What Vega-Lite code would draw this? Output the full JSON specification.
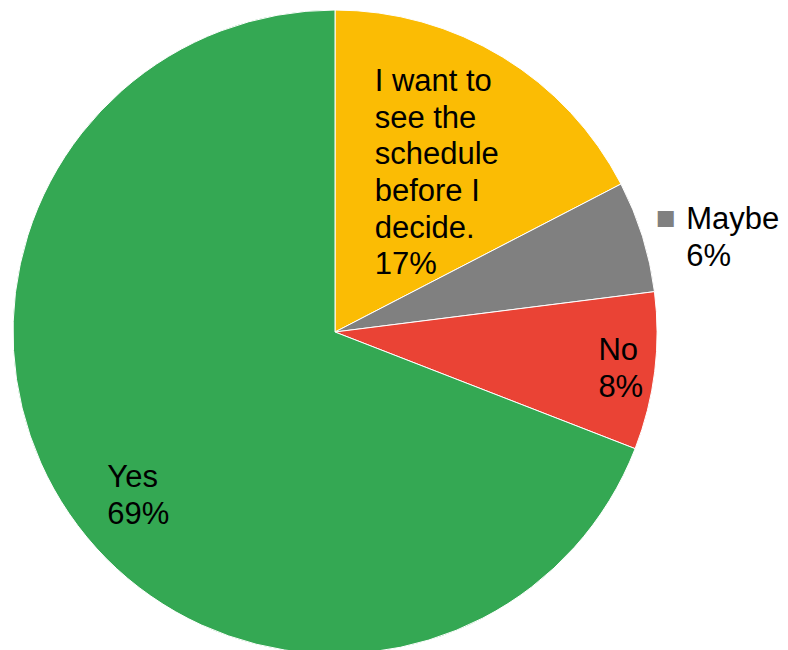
{
  "$schema": "https://vega.github.io/schema/vega-lite/v6.json",
  "width": 670,
  "height": 650,
  "autosize": "none",
  "padding": {"left": 0, "top": 7, "right": 118, "bottom": 0},
  "background": "white",
  "view": {"stroke": null},
  "data": {
    "values": [
      {"answer": "I want to see the schedule before I decide.", "value": 17.4, "label": "I want to\nsee the\nschedule\nbefore I\ndecide.\n17%"},
      {"answer": "Maybe", "value": 5.6, "label": "Maybe\n6%"},
      {"answer": "No", "value": 7.9, "label": "No\n8%"},
      {"answer": "Yes", "value": 69.1, "label": "Yes\n69%"}
    ]
  },
  "encoding": {
    "theta": {"field": "value", "type": "quantitative", "stack": true},
    "detail": {"field": "answer", "type": "nominal"}
  },
  "layer": [
    {
      "mark": {"type": "arc", "outerRadius": 322, "stroke": "white", "strokeWidth": 1},
      "encoding": {
        "color": {
          "field": "answer",
          "type": "nominal",
          "scale": {
            "domain": ["I want to see the schedule before I decide.", "Maybe", "No", "Yes"],
            "range": ["#FBBC04", "#808080", "#EA4335", "#34A853"]
          },
          "legend": null
        }
      }
    },
    {
      "mark": {"type": "text", "radius": 185, "align": "left", "baseline": "alphabetic", "dx": -56.5, "dy": -83, "fontSize": 31, "font": "Liberation Sans", "lineBreak": "\n", "lineHeight": 36.7, "color": "black"},
      "encoding": {"text": {"condition": {"test": "datum.answer === 'I want to see the schedule before I decide.'", "field": "label", "type": "nominal"}, "value": ""}}
    },
    {
      "mark": {"type": "text", "radius": 350, "align": "left", "baseline": "alphabetic", "dx": 17, "dy": 1, "fontSize": 31, "font": "Liberation Sans", "lineBreak": "\n", "lineHeight": 36.7, "color": "black"},
      "encoding": {"text": {"condition": {"test": "datum.answer === 'Maybe'", "field": "label", "type": "nominal"}, "value": ""}}
    },
    {
      "mark": {"type": "text", "radius": 350, "align": "center", "baseline": "middle", "dx": -3.5, "dy": -9.3, "fontSize": 33, "font": "Liberation Sans", "color": "#808080"},
      "encoding": {"text": {"condition": {"test": "datum.answer === 'Maybe'", "value": "■"}, "value": ""}}
    },
    {
      "mark": {"type": "text", "radius": 270, "align": "left", "baseline": "alphabetic", "dx": -4.6, "dy": -5, "fontSize": 31, "font": "Liberation Sans", "lineBreak": "\n", "lineHeight": 36.7, "color": "black"},
      "encoding": {"text": {"condition": {"test": "datum.answer === 'No'", "field": "label", "type": "nominal"}, "value": ""}}
    },
    {
      "mark": {"type": "text", "radius": 270, "align": "left", "baseline": "alphabetic", "dx": -4.8, "dy": 2.5, "fontSize": 31, "font": "Liberation Sans", "lineBreak": "\n", "lineHeight": 37.5, "color": "black"},
      "encoding": {"text": {"condition": {"test": "datum.answer === 'Yes'", "field": "label", "type": "nominal"}, "value": ""}}
    }
  ]
}
